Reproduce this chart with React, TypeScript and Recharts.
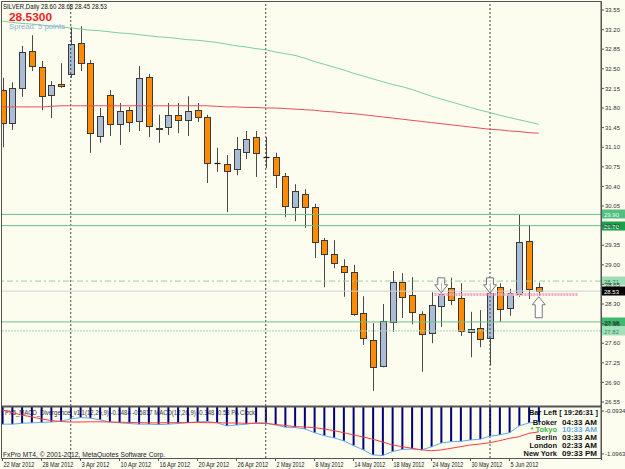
import {
  ComposedChart,
  Bar,
  Line,
  XAxis,
  YAxis,
  ReferenceLine,
  Scatter,
} from 'recharts';

const FONT = '"Liberation Sans", Arial, sans-serif';

// daily OHLC, 22 Mar 2012 .. 8 Jun 2012
const opens = [
  32.12, 31.53, 32.16, 32.82, 32.53, 32.03, 32.23, 32.41, 32.96, 32.6,
  31.3, 32.03, 31.51, 31.76, 31.57, 32.35, 31.43, 31.46, 31.68, 31.59,
  31.76, 31.64, 30.81, 30.8, 30.71, 31.01, 31.28, 30.93, 30.93, 30.59,
  30.03, 30.26, 30.03, 29.44, 29.19, 28.98, 28.87, 28.14, 27.66, 27.19,
  27.98, 28.69, 28.46, 28.12, 27.78, 28.26, 28.58, 28.4, 27.8, 27.87,
  27.69, 28.6, 28.23, 28.48, 29.43, 28.6,
];
const highs = [
  32.34, 32.26, 32.91, 33.1, 32.64, 32.28, 32.6, 33.25, 33.26, 32.66,
  31.8, 32.12, 31.89, 31.82, 32.55, 32.41, 31.68, 31.89, 31.89, 32.01,
  31.89, 31.68, 31.09, 30.96, 31.28, 31.39, 31.39, 31.28, 31.0, 30.64,
  30.44, 30.35, 30.09, 29.48, 29.44, 29.1, 29.0, 28.44, 27.96, 28.3,
  28.89, 28.85, 28.78, 28.17, 28.51, 28.67, 28.77, 28.67, 28.16, 28.19,
  28.67, 28.67, 28.57, 29.9, 29.7, 28.68,
];
const lows = [
  31.1, 31.41, 32.0, 32.46, 31.76, 31.62, 32.16, 32.34, 32.46, 31.0,
  31.18, 31.3, 31.14, 31.37, 31.39, 31.28, 31.18, 31.32, 31.35, 31.3,
  31.55, 30.46, 30.66, 29.94, 30.6, 30.89, 30.57, 30.73, 30.37, 29.85,
  29.78, 29.66, 29.12, 28.6, 28.94, 28.43, 28.09, 27.57, 26.75, 27.17,
  27.8, 28.05, 27.94, 27.09, 27.6, 27.89, 28.28, 27.73, 27.35, 27.53,
  27.21, 27.98, 28.09, 28.43, 28.39, 28.45,
];
const closes = [
  31.53, 32.16, 32.8, 32.55, 32.01, 32.21, 32.2, 32.94, 32.6, 31.35,
  31.66, 31.51, 31.75, 31.55, 32.34, 31.48, 31.45, 31.68, 31.58, 31.75,
  31.64, 30.82, 30.81, 30.68, 31.07, 31.25, 31.0, 30.93, 30.6, 30.05,
  30.32, 30.03, 29.41, 29.19, 29.03, 28.87, 28.12, 27.69, 27.18, 28.0,
  28.69, 28.43, 28.16, 27.76, 28.28, 28.48, 28.37, 27.82, 27.85, 27.68,
  28.5, 28.21, 28.5, 29.41, 28.57, 28.53,
];
const maGreen = [
  33.35, 33.33, 33.31, 33.3, 33.28, 33.26, 33.25, 33.23, 33.21, 33.19,
  33.18, 33.16, 33.14, 33.13, 33.11, 33.09, 33.07, 33.06, 33.04, 33.02,
  33.01, 32.99, 32.97, 32.94, 32.91, 32.89, 32.86, 32.84, 32.8, 32.77,
  32.74, 32.69, 32.63, 32.58, 32.53, 32.48, 32.42, 32.37, 32.32, 32.27,
  32.22, 32.18, 32.13, 32.07, 32.01, 31.96, 31.91, 31.86, 31.81, 31.76,
  31.72, 31.67, 31.63, 31.59, 31.55, 31.51,
];
const maRed = [
  31.82, 31.82, 31.82, 31.82, 31.82, 31.83, 31.84, 31.84, 31.84, 31.84,
  31.84, 31.84, 31.84, 31.84, 31.84, 31.84, 31.84, 31.84, 31.84, 31.84,
  31.84, 31.84, 31.83, 31.82, 31.82, 31.81, 31.81, 31.8, 31.8, 31.79,
  31.78, 31.77, 31.76, 31.74, 31.73, 31.71, 31.7, 31.68, 31.66, 31.64,
  31.62, 31.6, 31.58, 31.56, 31.54, 31.52, 31.5, 31.48, 31.46, 31.44,
  31.42, 31.41, 31.39, 31.38, 31.36, 31.35,
];
const macdMain = [
  -0.4, -0.4, -0.38, -0.37, -0.36, -0.35, -0.33, -0.28, -0.245, -0.26,
  -0.3, -0.35, -0.37, -0.385, -0.4, -0.4, -0.41, -0.4, -0.385, -0.37,
  -0.35, -0.34, -0.37, -0.44, -0.42, -0.4, -0.37, -0.37, -0.42, -0.47,
  -0.48, -0.51, -0.6, -0.67, -0.72, -0.79, -0.9, -1.0, -1.12, -1.13,
  -1.04, -0.99, -0.98, -1.0, -0.93, -0.84, -0.81, -0.8, -0.77, -0.75,
  -0.68, -0.65, -0.6, -0.44, -0.37, -0.35,
];
const macdSignal = [
  -0.07, -0.13, -0.19, -0.23, -0.28, -0.315, -0.34, -0.35, -0.35, -0.345,
  -0.345, -0.35, -0.355, -0.36, -0.365, -0.37, -0.37, -0.365, -0.365, -0.36,
  -0.36, -0.366, -0.366, -0.373, -0.373, -0.38, -0.38, -0.385, -0.408, -0.431,
  -0.459, -0.466, -0.483, -0.513, -0.553, -0.599, -0.653, -0.699, -0.753, -0.816,
  -0.886, -0.926, -0.963, -1.002, -1.019, -1.002, -0.963, -0.926, -0.886, -0.863,
  -0.832, -0.786, -0.73, -0.692, -0.613, -0.581,
];

const dateTickBars = [0, 4, 8, 12, 16, 20, 24, 28, 32, 36, 40, 44, 48, 52];
const dateLabels = [
  '22 Mar 2012', '28 Mar 2012', '3 Apr 2012', '10 Apr 2012', '16 Apr 2012',
  '20 Apr 2012', '26 Apr 2012', '2 May 2012', '8 May 2012', '14 May 2012',
  '18 May 2012', '24 May 2012', '30 May 2012', '5 Jun 2012',
];
const priceTicks = [
  26.55, 26.9, 27.25, 27.6, 27.95, 28.3, 28.65, 29.0, 29.35, 29.7, 30.05,
  30.4, 30.75, 31.1, 31.45, 31.8, 32.15, 32.5, 32.85, 33.2, 33.55,
];
const macdTicks = [-0.0934, -1.0963];
const separatorBars = [7, 27, 50];
const levelPrices = [29.9, 29.7, 28.71, 27.98, 27.82];
const bidPrice = 28.53;
const pinkLevel = 28.47;
const pinkFrom = 44.3;
const pinkTo = 59;
const downArrows = [
  { i: 45, p: 28.5 },
  { i: 50, p: 28.5 },
];
const upArrows = [{ i: 55, p: 28.43 }];

const X_DOMAIN: [number, number] = [-0.05, 61.385];

const candles = opens.map((o, i) => ({
  i,
  o,
  h: highs[i],
  l: lows[i],
  c: closes[i],
  range: [lows[i], highs[i]],
  maG: maGreen[i],
  maR: maRed[i],
}));
const macdRows = macdMain.map((m, i) => ({ i, m, s: macdSignal[i] }));

function Candle(props: any) {
  const { x, y, height, payload } = props;
  if (x == null || y == null || !payload) return null;
  const { o, h, l, c } = payload;
  const k = h > l ? height / (h - l) : 0;
  const py = (v: number) => y + (h - v) * k;
  const left = Math.round(x) + 0.5;
  const mid = left + 3;
  const top = Math.round(py(Math.max(o, c))) + 0.5;
  const bot = Math.round(py(Math.min(o, c))) + 0.5;
  const doji = Math.abs(c - o) < 0.015;
  return (
    <g>
      <line x1={mid} x2={mid} y1={py(h)} y2={py(l)} stroke="#4a4a4a" />
      {doji ? (
        <line x1={left} x2={left + 6} y1={top} y2={top} stroke="#111" strokeWidth={1.2} />
      ) : (
        <rect
          x={left}
          y={top}
          width={6}
          height={Math.max(1, bot - top)}
          fill={c > o ? '#abbdd6' : '#ff8c00'}
          stroke="#3a3a3a"
        />
      )}
    </g>
  );
}

function DownArrow(props: any) {
  const { cx, cy } = props;
  if (cx == null) return null;
  const pts = [[0, 0], [-6.5, -8], [-3.5, -8], [-3.5, -15], [3.5, -15], [3.5, -8], [6.5, -8]];
  return (
    <polygon
      points={pts.map(([dx, dy]) => `${cx + dx},${cy + dy}`).join(' ')}
      fill="#ffffff"
      fillOpacity={0.6}
      stroke="#777"
    />
  );
}

function UpArrow(props: any) {
  const { cx, cy } = props;
  if (cx == null) return null;
  const pts = [[0, 0], [-6.5, 8], [-3.5, 8], [-3.5, 21], [3.5, 21], [3.5, 8], [6.5, 8]];
  return (
    <polygon
      points={pts.map(([dx, dy]) => `${cx + dx},${cy + dy}`).join(' ')}
      fill="#ffffff"
      stroke="#777"
    />
  );
}

function PriceTag(props: any) {
  const { viewBox, text, bg, fg } = props;
  if (!viewBox) return null;
  const right = viewBox.x + viewBox.width;
  const yy = Math.round(viewBox.y);
  return (
    <g>
      <rect x={right + 1} y={yy - 4.5} width={23} height={9} fill={bg} />
      <text x={right + 3} y={yy + 2.5} fontSize={6} fill={fg} fontFamily={FONT}>
        {text}
      </text>
    </g>
  );
}

function DateTick(props: any) {
  const { x, y, payload } = props;
  const k = dateTickBars.indexOf(payload.value);
  if (k < 0) return null;
  const label = dateLabels[k];
  return (
    <text
      x={x + 1}
      y={y + 4}
      fontSize={6.5}
      fill="#222"
      fontFamily={FONT}
      textLength={label.length * 2.8}
      lengthAdjust="spacingAndGlyphs"
    >
      {label}
    </text>
  );
}

const clockRows = [
  { name: 'Broker', time: '04:33 AM', nameColor: '#111', timeColor: '#111' },
  { name: '* Tokyo', time: '10:33 AM', nameColor: '#3cb34a', timeColor: '#6aa8e2' },
  { name: 'Berlin', time: '03:33 AM', nameColor: '#111', timeColor: '#111' },
  { name: 'London', time: '02:33 AM', nameColor: '#111', timeColor: '#111' },
  { name: 'New York', time: '09:33 PM', nameColor: '#111', timeColor: '#111' },
];

export default function App() {
  return (
    <div
      style={{
        position: 'absolute',
        left: 0,
        top: 0,
        width: 625,
        height: 469,
        background: '#fcfcef',
        overflow: 'hidden',
        fontFamily: FONT,
      }}
    >
      {/* indicator legend sits under the histogram */}
      <svg width={625} height={469} style={{ position: 'absolute', left: 0, top: 0 }}>
        <text
          x={5}
          y={415}
          fontSize={6.5}
          fill="#333"
          fontFamily={FONT}
          textLength={250}
          lengthAdjust="spacingAndGlyphs"
        >
          FX5_MACD_Divergence_v1.1(12,26,9) -0.3484 -0.5817  MACD(12,26,9) -0.348 -0.58  PA Clock
        </text>
      </svg>

      <div style={{ position: 'absolute', left: 0, top: 0 }}>
        <ComposedChart
          width={625}
          height={407}
          data={candles}
          margin={{ top: 2, right: 0, left: 2, bottom: 1 }}
        >
          <XAxis dataKey="i" type="number" domain={X_DOMAIN} allowDataOverflow hide ticks={dateTickBars} />
          <YAxis
            orientation="right"
            width={24}
            domain={[26.479, 33.693]}
            allowDataOverflow
            ticks={priceTicks}
            interval={0}
            tickSize={3}
            tickMargin={1}
            tickFormatter={(v: number) => v.toFixed(2)}
            tick={{ fontSize: 6, fill: '#333', fontFamily: FONT }}
            axisLine={{ stroke: '#555' }}
            tickLine={{ stroke: '#555' }}
          />
          {separatorBars.map(b => (
            <ReferenceLine key={b} x={b} stroke="#444" strokeDasharray="2 2" />
          ))}
          <ReferenceLine
            y={levelPrices[0]}
            stroke="#66c28c"
            label={<PriceTag text={levelPrices[0].toFixed(2)} bg="#52c07e" fg="#e6fbe9" />}
          />
          <ReferenceLine
            y={levelPrices[1]}
            stroke="#66c28c"
            label={<PriceTag text={levelPrices[1].toFixed(2)} bg="#18a04a" fg="#ffffff" />}
          />
          <ReferenceLine
            y={levelPrices[2]}
            stroke="#8fd4a8"
            strokeDasharray="6 3 2 3"
            label={<PriceTag text={levelPrices[2].toFixed(2)} bg="#9edcb5" fg="#3a8a5a" />}
          />
          <ReferenceLine
            y={levelPrices[3]}
            stroke="#66c28c"
            label={<PriceTag text={levelPrices[3].toFixed(2)} bg="#3fb96e" fg="#0d3d1d" />}
          />
          <ReferenceLine
            y={levelPrices[4]}
            stroke="#9fd9b5"
            strokeDasharray="2 1"
            label={<PriceTag text={levelPrices[4].toFixed(2)} bg="#a5e0bd" fg="#2f8f55" />}
          />
          <ReferenceLine
            y={bidPrice}
            stroke="#d2d2d2"
            label={<PriceTag text={bidPrice.toFixed(2)} bg="#000000" fg="#ffffff" />}
          />
          <ReferenceLine
            segment={[
              { x: pinkFrom, y: pinkLevel },
              { x: pinkTo, y: pinkLevel },
            ]}
            stroke="#f0a8c6"
            strokeWidth={3}
            strokeDasharray="2 1"
          />
          <Line dataKey="maG" stroke="#7dcf9e" dot={false} strokeWidth={1} isAnimationActive={false} />
          <Line dataKey="maR" stroke="#e84f5a" dot={false} strokeWidth={1} isAnimationActive={false} />
          <Bar dataKey="range" barSize={6} shape={<Candle />} isAnimationActive={false} />
          <Scatter data={downArrows} dataKey="p" shape={<DownArrow />} isAnimationActive={false} />
          <Scatter data={upArrows} dataKey="p" shape={<UpArrow />} isAnimationActive={false} />
        </ComposedChart>
      </div>

      <div style={{ position: 'absolute', left: 0, top: 406 }}>
        <ComposedChart
          width={625}
          height={63}
          data={macdRows}
          margin={{ top: 1, right: 0, left: 2, bottom: 0 }}
        >
          <XAxis
            dataKey="i"
            type="number"
            domain={X_DOMAIN}
            allowDataOverflow
            ticks={dateTickBars}
            interval={0}
            height={11}
            axisLine={false}
            tickSize={3}
            tickLine={{ stroke: '#555' }}
            tick={<DateTick />}
          />
          <YAxis
            orientation="right"
            width={24}
            domain={[-1.19, 0]}
            allowDataOverflow
            ticks={macdTicks}
            interval={0}
            tickSize={3}
            tickMargin={1}
            tickFormatter={(v: number) => v.toFixed(4)}
            tick={{ fontSize: 6, fill: '#333', fontFamily: FONT }}
            axisLine={{ stroke: '#555' }}
            tickLine={{ stroke: '#555' }}
          />
          {separatorBars.map(b => (
            <ReferenceLine key={b} x={b} stroke="#444" strokeDasharray="2 2" />
          ))}
          <Bar dataKey="m" barSize={2} fill="#00007f" isAnimationActive={false} />
          <Line dataKey="m" stroke="#5eaaf2" dot={false} strokeWidth={1} isAnimationActive={false} />
          <Line dataKey="s" stroke="#ff3c3c" dot={false} strokeWidth={1} isAnimationActive={false} />
        </ComposedChart>
      </div>

      {/* frame, header texts and clock on top */}
      <svg
        width={625}
        height={469}
        style={{ position: 'absolute', left: 0, top: 0, pointerEvents: 'none' }}
      >
        <g stroke="#555" fill="none">
          <line x1={1.5} y1={1.5} x2={601.5} y2={1.5} />
          <line x1={1.5} y1={1.5} x2={1.5} y2={458.5} />
          <line x1={601.5} y1={1.5} x2={601.5} y2={460} />
          <line x1={1.5} y1={406.5} x2={601.5} y2={406.5} strokeWidth={2} />
          <line x1={1.5} y1={458.5} x2={601.5} y2={458.5} />
        </g>
        <text x={3} y={8.5} fontSize={6.5} fill="#111" textLength={104} lengthAdjust="spacingAndGlyphs">
          SILVER,Daily  28.60 28.68 28.45 28.53
        </text>
        <text
          x={9}
          y={20.5}
          fontSize={11.5}
          fontWeight="bold"
          fill="#ee1c24"
          textLength={43}
          lengthAdjust="spacingAndGlyphs"
        >
          28.5300
        </text>
        <text x={9} y={28.5} fontSize={7.5} fill="#8bb0d8" textLength={56} lengthAdjust="spacingAndGlyphs">
          Spread: 5 points
        </text>
        <text
          x={3}
          y={456.5}
          fontSize={6.5}
          fill="#222"
          textLength={162}
          lengthAdjust="spacingAndGlyphs"
        >
          FxPro MT4, © 2001-2012, MetaQuotes Software Corp.
        </text>
        <g fontWeight="bold" fontSize={7.5} fontFamily={FONT}>
          <text x={529} y={415.2} fill="#111" textLength={69} lengthAdjust="spacingAndGlyphs">
            Bar Left [ 19:26:31 ]
          </text>
          {clockRows.map((r, k) => (
            <g key={r.name}>
              <text x={557} y={424.5 + k * 7.9} fill={r.nameColor} textAnchor="end">
                {r.name}
              </text>
              <text
                x={562}
                y={424.5 + k * 7.9}
                fill={r.timeColor}
                textLength={35}
                lengthAdjust="spacingAndGlyphs"
              >
                {r.time}
              </text>
            </g>
          ))}
        </g>
      </svg>
    </div>
  );
}
